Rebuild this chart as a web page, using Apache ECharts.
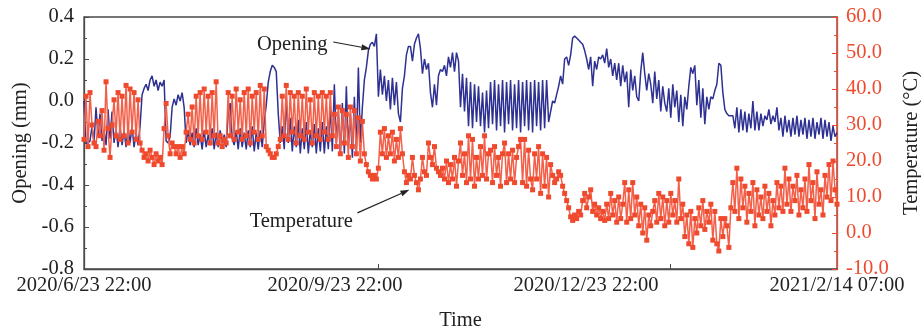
<!doctype html>
<html lang="en">
<head>
<meta charset="UTF-8">
<title>Opening and temperature</title>
<script src="https://cdn.jsdelivr.net/npm/echarts@6/dist/echarts.min.js"></script>
<style>
    html, body { margin: 0; padding: 0; background: #fff; }
    #chart { width: 921px; height: 329px; }
</style>
</head>
<body>
<div id="chart"></div>
<script type="text/javascript">
/* data: one reading every sample step */
let timeLabels = ['2020/6/23 22:00', '2020/9/23 22:00', '2020/12/23 22:00', '2021/2/14 07:00'];

let opening = [
    0.00, -0.20, -0.20, -0.19, -0.12, -0.20, -0.03, -0.17, -0.06, -0.19, -0.14, -0.21, -0.04, -0.18, -0.05, -0.20, -0.13, -0.22, -0.12, -0.21,
    -0.14, -0.22, -0.13, -0.20, -0.12, -0.22, -0.15, -0.21, -0.12, 0.03, 0.06, 0.08, 0.05, 0.10, 0.12, 0.07, 0.10, 0.05, 0.09, 0.07,
    0.10, -0.19, -0.20, -0.17, -0.03, 0.01, -0.02, 0.03, 0.00, 0.04, -0.03, -0.20, -0.14, -0.21, -0.15, -0.22, -0.13, -0.21, -0.16, -0.23,
    -0.14, -0.22, -0.16, -0.21, -0.13, -0.23, -0.15, -0.22, -0.14, -0.21, -0.16, -0.22, -0.06, -0.01, -0.18, -0.21, -0.14, -0.23, -0.13, -0.22,
    -0.15, -0.23, -0.14, -0.22, -0.12, -0.24, -0.15, -0.23, -0.14, -0.22, -0.10, -0.02, 0.09, 0.14, 0.17, 0.16, 0.14, -0.06, -0.20, -0.12,
    -0.23, 0.02, -0.20, -0.08, -0.24, -0.12, -0.22, -0.09, -0.25, -0.13, -0.23, -0.10, -0.25, -0.14, -0.22, -0.11, -0.25, -0.13, -0.24, -0.10,
    -0.25, -0.12, -0.23, -0.02, -0.24, 0.08, -0.20, -0.05, -0.26, -0.01, -0.25, 0.07, -0.22, -0.06, -0.27, 0.02, -0.24, 0.16, -0.20, -0.03,
    0.10, 0.16, 0.24, 0.27, 0.28, 0.26, 0.32, 0.02, 0.15, 0.03, 0.12, 0.00, 0.10, -0.04, 0.11, -0.02, 0.09, -0.06, -0.10, 0.06,
    0.12, 0.22, 0.26, 0.26, 0.19, 0.27, 0.30, 0.32, 0.25, 0.13, 0.20, 0.15, 0.18, 0.04, -0.03, 0.08, -0.02, 0.12, 0.15, 0.14,
    0.17, 0.12, 0.21, 0.16, 0.23, 0.14, 0.23, 0.19, -0.03, 0.13, -0.05, 0.11, -0.12, 0.09, -0.13, 0.08, -0.10, 0.07, -0.12, 0.04,
    -0.15, 0.05, -0.13, 0.09, -0.11, 0.10, -0.14, 0.08, -0.12, 0.10, -0.15, 0.09, -0.11, 0.10, -0.14, 0.08, -0.13, 0.10, -0.15, 0.09,
    -0.12, 0.10, -0.14, 0.09, -0.15, 0.10, -0.12, 0.09, -0.14, 0.10, -0.13, 0.10, -0.10, -0.05, 0.00, -0.01, 0.03, 0.07, 0.12, 0.08,
    0.20, 0.21, 0.17, 0.22, 0.30, 0.31, 0.30, 0.29, 0.28, 0.27, 0.24, 0.20, 0.15, 0.21, 0.07, 0.19, 0.15, 0.21, 0.20, 0.22,
    0.18, 0.25, 0.16, 0.20, 0.12, 0.18, 0.10, 0.18, 0.07, 0.17, 0.09, 0.14, -0.03, 0.15, 0.05, 0.12, 0.02, 0.00, 0.14, 0.23,
    0.13, 0.05, 0.13, 0.08, -0.01, 0.14, 0.01, 0.10, -0.05, 0.07, -0.01, -0.05, 0.06, -0.08, 0.08, -0.03, 0.05, -0.10, 0.03, -0.12,
    0.02, -0.04, 0.07, 0.16, 0.13, 0.17, -0.02, 0.10, -0.08, 0.06, -0.11, 0.02, -0.04, 0.02, 0.01, 0.05, 0.08, 0.18, 0.17, 0.04,
    -0.04, -0.06, -0.07, -0.07, -0.07, -0.13, -0.03, -0.15, -0.04, -0.14, -0.05, -0.15, -0.06, -0.13, 0.00, -0.14, -0.05, -0.14, -0.06, -0.12,
    -0.07, -0.09, -0.04, -0.11, -0.07, -0.10, -0.03, -0.14, -0.08, -0.17, -0.07, -0.15, -0.09, -0.17, -0.08, -0.16, -0.07, -0.17, -0.09, -0.16,
    -0.08, -0.18, -0.09, -0.17, -0.08, -0.18, -0.10, -0.16, -0.08, -0.18, -0.09, -0.17, -0.10, -0.19, -0.12, -0.17, -0.15
];

let temperature = [
    26, 38, 24, 39, 30, 25, 24, 31, 27, 34, 23, 42, 29, 21, 30, 37, 27, 39, 26, 38,
    27, 41, 25, 40, 28, 39, 26, 37, 25, 23, 21, 22, 20, 23, 21, 19, 22, 20, 21, 19,
    29, 36, 27, 22, 25, 24, 22, 24, 21, 24, 22, 28, 33, 26, 35, 25, 38, 27, 39, 26,
    40, 28, 38, 25, 39, 27, 42, 25, 27, 24, 26, 25, 39, 27, 38, 26, 40, 28, 37, 26,
    39, 27, 40, 25, 38, 28, 39, 26, 41, 27, 40, 24, 23, 22, 21, 21, 22, 24, 26, 38,
    27, 41, 26, 39, 28, 38, 25, 39, 27, 38, 26, 40, 28, 37, 25, 39, 27, 38, 26, 39,
    28, 38, 26, 39, 27, 33, 24, 35, 22, 34, 25, 33, 21, 35, 24, 34, 22, 32, 20, 31,
    22, 19, 17, 16, 15, 16, 15, 18, 28, 22, 29, 21, 27, 22, 28, 20, 26, 21, 29, 22,
    17, 14, 16, 15, 21, 16, 14, 12, 15, 21, 17, 16, 25, 21, 19, 24, 18, 17, 16, 18,
    15, 20, 14, 19, 15, 21, 13, 20, 25, 16, 22, 14, 27, 15, 26, 13, 21, 15, 24, 16,
    27, 15, 22, 23, 14, 24, 16, 21, 13, 22, 25, 14, 22, 15, 23, 14, 21, 24, 26, 14,
    26, 13, 23, 15, 12, 22, 15, 24, 11, 22, 13, 21, 10, 19, 16, 14, 15, 17, 16, 13,
    11, 9, 7, 4.5, 3.5, 5, 4, 6, 5, 9, 11, 7, 10, 12, 6, 8, 5, 7, 4, 6,
    3.5, 8, 4, 11, 5, 9, 3, 10, 4, 8, 14, 3, 12, 4, 14, 5, 10, 2, 8, 0,
    7, -2, 5, 2, 6, 9, 3, 11, 4, 10, 2, 9, 3, 11, 5, 9, 3, 15, 4, 8,
    -1, 5, -3, 6, -4, 4, 0, 7, 2, 9, 1, 6, 3, 8, -2, 6, -3, -5, 4, -1,
    4, 2, -4, 7, 14, 6, 18, 4, 15, 7, 13, 3, 11, 6, 14, 2, 12, 5, 10, 4,
    13, 6, 11, 2, 9, 5, 14, 7, 13, 6, 18, 8, 15, 6, 13, 9, 16, 5, 12, 7,
    15, 6, 19, 9, 14, 4, 17, 8, 12, 5, 16, 10, 19, 9, 20, 12, 8
];

/* sample index where each date label and each axis tick sits */
let lastIdx = opening.length - 1;
let labelIdx = [0, lastIdx / 3, lastIdx * 2 / 3, lastIdx];
let tickIdx = [147, 292.5];

let serif = "'Liberation Serif', 'DejaVu Serif', serif";
let fs = 20.5;
let grey = '#4a4a4a';
let red = '#ef4a2d';
let blue = '#2e3192';

function toPairs(arr) {
    return arr.map(function (v, i) { return [i, v]; });
}

let chart = echarts.init(document.getElementById('chart'));

let option = {
    animation: false,
    textStyle: { fontFamily: serif },
    grid: {
        left: 84, right: 84, top: 17, bottom: 60,
        outerBoundsMode: 'none',
        show: true, borderColor: grey, borderWidth: 1.3, backgroundColor: 'transparent'
    },
    xAxis: {
        type: 'value',
        min: 0,
        max: lastIdx,
        name: 'Time',
        nameLocation: 'middle',
        nameGap: 41,
        nameTextStyle: { fontFamily: serif, fontSize: fs, color: '#222' },
        axisLine: { onZero: false, lineStyle: { color: grey, width: 1.3 } },
        axisTick: { inside: true, length: 5, customValues: tickIdx, lineStyle: { color: grey } },
        axisLabel: {
            customValues: labelIdx,
            fontFamily: serif, fontSize: fs, color: '#222', margin: 6,
            formatter: function (v) {
                let k = labelIdx.findIndex(function (p) { return Math.abs(p - v) < 0.01; });
                return k >= 0 ? timeLabels[k] : '';
            }
        },
        splitLine: { show: false }
    },
    yAxis: [
        {
            type: 'value',
            min: -0.8, max: 0.4, interval: 0.2,
            name: 'Opening (mm)',
            nameLocation: 'middle',
            nameGap: 53,
            nameTextStyle: { fontFamily: serif, fontSize: fs, color: '#222' },
            axisLine: { show: true, onZero: false, lineStyle: { color: grey, width: 1.3 } },
            axisTick: { show: true, inside: true, length: 5, lineStyle: { color: grey } },
            minorTick: { show: true, splitNumber: 2, length: 3, lineStyle: { color: grey } },
            axisLabel: {
                fontFamily: serif, fontSize: fs, color: '#222', margin: 10,
                formatter: function (v) { return v.toFixed(1); }
            },
            splitLine: { show: false }
        },
        {
            type: 'value',
            min: -10, max: 60, interval: 10,
            position: 'right',
            name: 'Temperature (°C)',
            nameLocation: 'middle',
            nameGap: 64,
            nameRotate: 90,
            nameTextStyle: { fontFamily: serif, fontSize: fs, color: '#222' },
            axisLine: { show: true, onZero: false, lineStyle: { color: red, width: 1.3 } },
            axisTick: { show: true, inside: true, length: 5, lineStyle: { color: red } },
            minorTick: { show: true, splitNumber: 2, length: 3, lineStyle: { color: red } },
            axisLabel: {
                fontFamily: serif, fontSize: fs, color: red, margin: 9,
                formatter: function (v) { return v.toFixed(1); }
            },
            splitLine: { show: false }
        }
    ],
    series: [
        {
            name: 'Opening',
            type: 'line',
            yAxisIndex: 0,
            data: toPairs(opening),
            showSymbol: false,
            lineStyle: { color: blue, width: 1.5 },
            z: 2
        },
        {
            name: 'Temperature',
            type: 'line',
            yAxisIndex: 1,
            data: toPairs(temperature),
            symbol: 'rect',
            symbolSize: 5,
            showAllSymbol: true,
            itemStyle: { color: red },
            lineStyle: { color: '#f2604a', width: 1.5 },
            z: 3
        }
    ]
};
chart.setOption(option);

/* annotation labels with arrows, anchored in data units */
function arrow(from, to) {
    let dx = to[0] - from[0], dy = to[1] - from[1];
    let len = Math.sqrt(dx * dx + dy * dy);
    let ux = dx / len, uy = dy / len;
    let hl = 9, hw = 3;
    let bx = to[0] - ux * hl, by = to[1] - uy * hl;
    return [
        { type: 'line', shape: { x1: from[0], y1: from[1], x2: bx, y2: by }, style: { stroke: '#222', lineWidth: 1.2 }, z: 10 },
        { type: 'polygon', shape: { points: [[to[0], to[1]], [bx - uy * hw, by + ux * hw], [bx + uy * hw, by - ux * hw]] }, style: { fill: '#222' }, z: 10 }
    ];
}

let openTxt = chart.convertToPixel({ xAxisIndex: 0, yAxisIndex: 0 }, [104, 0.267]);
let openFrom = chart.convertToPixel({ xAxisIndex: 0, yAxisIndex: 0 }, [124.5, 0.281]);
let openTo = chart.convertToPixel({ xAxisIndex: 0, yAxisIndex: 0 }, [143, 0.248]);
let tempTxt = chart.convertToPixel({ xAxisIndex: 0, yAxisIndex: 1 }, [108.5, 3.3]);
let tempFrom = chart.convertToPixel({ xAxisIndex: 0, yAxisIndex: 1 }, [136.5, 5.6]);
let tempTo = chart.convertToPixel({ xAxisIndex: 0, yAxisIndex: 1 }, [162.5, 12.0]);

let graphics = [
    { type: 'text', x: openTxt[0], y: openTxt[1], style: { text: 'Opening', font: fs + 'px ' + serif, fill: '#222', align: 'center', verticalAlign: 'middle' }, z: 10 },
    { type: 'text', x: tempTxt[0], y: tempTxt[1], style: { text: 'Temperature', font: fs + 'px ' + serif, fill: '#222', align: 'center', verticalAlign: 'middle' }, z: 10 }
].concat(arrow(openFrom, openTo)).concat(arrow(tempFrom, tempTo));

chart.setOption({ graphic: graphics });
</script>
</body>
</html>
